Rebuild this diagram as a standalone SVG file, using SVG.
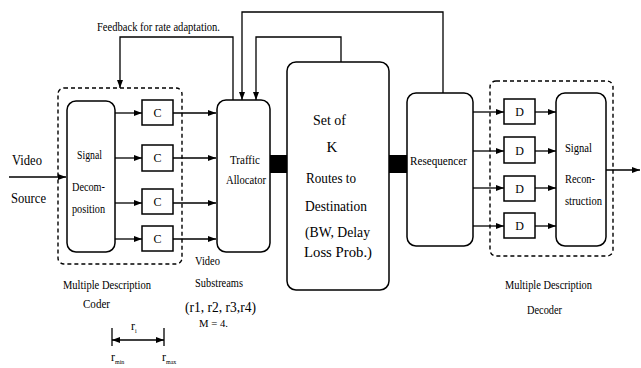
<svg xmlns="http://www.w3.org/2000/svg" width="641" height="368" viewBox="0 0 641 368">
<style>
text{font-family:"Liberation Serif","Times New Roman",serif;fill:#000}
.s{font-size:12px}
.m{font-size:15px}
.box{fill:#fff;stroke:#000;stroke-width:1.5}
.dash{fill:none;stroke:#000;stroke-width:1.4;stroke-dasharray:4 3}
.ln{fill:none;stroke:#000;stroke-width:1.3}
.arr{fill:none;stroke:#000;stroke-width:1.3;marker-end:url(#ah)}
</style>
<defs>
<marker id="ah" markerUnits="userSpaceOnUse" markerWidth="9" markerHeight="7" refX="8" refY="3" orient="auto"><path d="M0,0 L8,3 L0,6 z" fill="#000"/></marker>
<marker id="ahs" markerUnits="userSpaceOnUse" markerWidth="9" markerHeight="7" refX="0" refY="3" orient="auto"><path d="M8,0 L0,3 L8,6 z" fill="#000"/></marker>
</defs>
<rect width="641" height="368" fill="#fff"/>

<g id="coder-group">
<rect class="dash" x="58" y="88" width="124" height="176" rx="6"/>
<text class="s" x="63" y="289" textLength="88" lengthAdjust="spacingAndGlyphs">Multiple Description</text>
<text class="s" x="83" y="308" textLength="27" lengthAdjust="spacingAndGlyphs">Coder</text>
</g>
<g id="decoder-group">
<rect class="dash" x="490" y="81" width="123" height="175" rx="6"/>
<text class="s" x="505" y="289" textLength="87" lengthAdjust="spacingAndGlyphs">Multiple Description</text>
<text class="s" x="527" y="314" textLength="35" lengthAdjust="spacingAndGlyphs">Decoder</text>
</g>

<g id="connectors">
<line class="arr" x1="9" y1="177" x2="66" y2="177"/>
<line class="arr" x1="115" y1="113" x2="142" y2="113"/>
<line class="arr" x1="115" y1="158" x2="142" y2="158"/>
<line class="arr" x1="115" y1="203" x2="142" y2="203"/>
<line class="arr" x1="115" y1="239" x2="142" y2="239"/>
<line class="arr" x1="173" y1="113" x2="216" y2="113"/>
<line class="arr" x1="173" y1="158" x2="216" y2="158"/>
<line class="arr" x1="173" y1="203" x2="216" y2="203"/>
<line class="arr" x1="173" y1="239" x2="216" y2="239"/>
<polyline class="arr" points="233,100 233,37 120,37 120,88"/>
<polyline class="arr" points="443,93 443,12 242,12 242,100"/>
<polyline class="arr" points="341,62 341,37 256,37 256,100"/>
<rect x="270" y="155" width="17" height="18" fill="#000"/>
<rect x="389" y="155" width="18" height="18" fill="#000"/>
<line class="arr" x1="473" y1="112" x2="504" y2="112"/>
<line class="arr" x1="473" y1="151" x2="504" y2="151"/>
<line class="arr" x1="473" y1="188" x2="504" y2="188"/>
<line class="arr" x1="473" y1="226" x2="504" y2="226"/>
<line class="arr" x1="535" y1="112" x2="556" y2="112"/>
<line class="arr" x1="535" y1="151" x2="556" y2="151"/>
<line class="arr" x1="535" y1="188" x2="556" y2="188"/>
<line class="arr" x1="535" y1="226" x2="556" y2="226"/>
<line class="arr" x1="606" y1="170" x2="640" y2="170"/>
<line class="ln" x1="112" y1="328" x2="112" y2="346"/>
<line class="ln" x1="164" y1="328" x2="164" y2="346"/>
<line class="ln" x1="112" y1="340" x2="164" y2="340" style="marker-start:url(#ahs);marker-end:url(#ah)"/>
</g>

<g id="labels">
<text class="s" x="97" y="31" textLength="123" lengthAdjust="spacingAndGlyphs">Feedback for rate adaptation.</text>
<text class="m" x="12" y="165" textLength="30" lengthAdjust="spacingAndGlyphs">Video</text>
<text class="m" x="11" y="203" textLength="35" lengthAdjust="spacingAndGlyphs">Source</text>
<text class="s" x="195" y="265" textLength="25" lengthAdjust="spacingAndGlyphs">Video</text>
<text class="s" x="195" y="287" textLength="48" lengthAdjust="spacingAndGlyphs">Substreams</text>
<text class="m" x="185" y="312" textLength="71" lengthAdjust="spacingAndGlyphs">(r1, r2, r3,r4)</text>
<text style="font-size:11px" x="199" y="327" textLength="29" lengthAdjust="spacingAndGlyphs">M = 4.</text>
<text class="s" x="131" y="330">r<tspan dy="3" style="font-size:6px">i</tspan></text>
<text class="s" x="111" y="361">r<tspan dy="3" style="font-size:6px">min</tspan></text>
<text class="s" x="162" y="361">r<tspan dy="3" style="font-size:6px">max</tspan></text>
</g>

<g id="signal-decomposition">
<rect class="box" x="67" y="101" width="48" height="151" rx="9"/>
<text class="s" x="77" y="159" textLength="25" lengthAdjust="spacingAndGlyphs">Signal</text>
<text class="s" x="72" y="191" textLength="33" lengthAdjust="spacingAndGlyphs">Decom-</text>
<text class="s" x="72" y="213" textLength="33" lengthAdjust="spacingAndGlyphs">position</text>
</g>
<g id="c1"><rect class="box" x="142" y="100" width="31" height="25"/><text class="s" x="157.5" y="117" text-anchor="middle">C</text></g>
<g id="c2"><rect class="box" x="142" y="145" width="31" height="26"/><text class="s" x="157.5" y="162" text-anchor="middle">C</text></g>
<g id="c3"><rect class="box" x="142" y="189" width="31" height="25"/><text class="s" x="157.5" y="206" text-anchor="middle">C</text></g>
<g id="c4"><rect class="box" x="142" y="226" width="31" height="25"/><text class="s" x="157.5" y="243" text-anchor="middle">C</text></g>

<g id="traffic-allocator">
<rect class="box" x="217" y="100" width="53" height="152" rx="9"/>
<text class="s" x="230" y="164" textLength="30" lengthAdjust="spacingAndGlyphs">Traffic</text>
<text class="s" x="226" y="184" textLength="40" lengthAdjust="spacingAndGlyphs">Allocator</text>
</g>

<g id="routes">
<rect class="box" x="287" y="62" width="102" height="228" rx="9"/>
<text class="m" x="313" y="125" textLength="33" lengthAdjust="spacingAndGlyphs">Set of</text>
<text class="m" x="332" y="152" text-anchor="middle">K</text>
<text class="m" x="306" y="183" textLength="50" lengthAdjust="spacingAndGlyphs">Routes to</text>
<text class="m" x="305" y="211" textLength="62" lengthAdjust="spacingAndGlyphs">Destination</text>
<text class="m" x="305" y="237" textLength="65" lengthAdjust="spacingAndGlyphs">(BW, Delay</text>
<text class="m" x="304" y="257" textLength="68" lengthAdjust="spacingAndGlyphs">Loss Prob.)</text>
</g>

<g id="resequencer">
<rect class="box" x="407" y="93" width="66" height="153" rx="9"/>
<text class="s" x="410" y="165" textLength="57" lengthAdjust="spacingAndGlyphs">Resequencer</text>
</g>
<g id="d1"><rect class="box" x="504" y="99" width="31" height="25"/><text class="s" x="519.5" y="116" text-anchor="middle">D</text></g>
<g id="d2"><rect class="box" x="504" y="137" width="31" height="26"/><text class="s" x="519.5" y="155" text-anchor="middle">D</text></g>
<g id="d3"><rect class="box" x="504" y="176" width="31" height="25"/><text class="s" x="519.5" y="193" text-anchor="middle">D</text></g>
<g id="d4"><rect class="box" x="504" y="213" width="31" height="25"/><text class="s" x="519.5" y="230" text-anchor="middle">D</text></g>

<g id="signal-reconstruction">
<rect class="box" x="556" y="93" width="50" height="153" rx="9"/>
<text class="s" x="565" y="152" textLength="27" lengthAdjust="spacingAndGlyphs">Signal</text>
<text class="s" x="565" y="183" textLength="30" lengthAdjust="spacingAndGlyphs">Recon-</text>
<text class="s" x="565" y="205" textLength="37" lengthAdjust="spacingAndGlyphs">struction</text>
</g>
</svg>
